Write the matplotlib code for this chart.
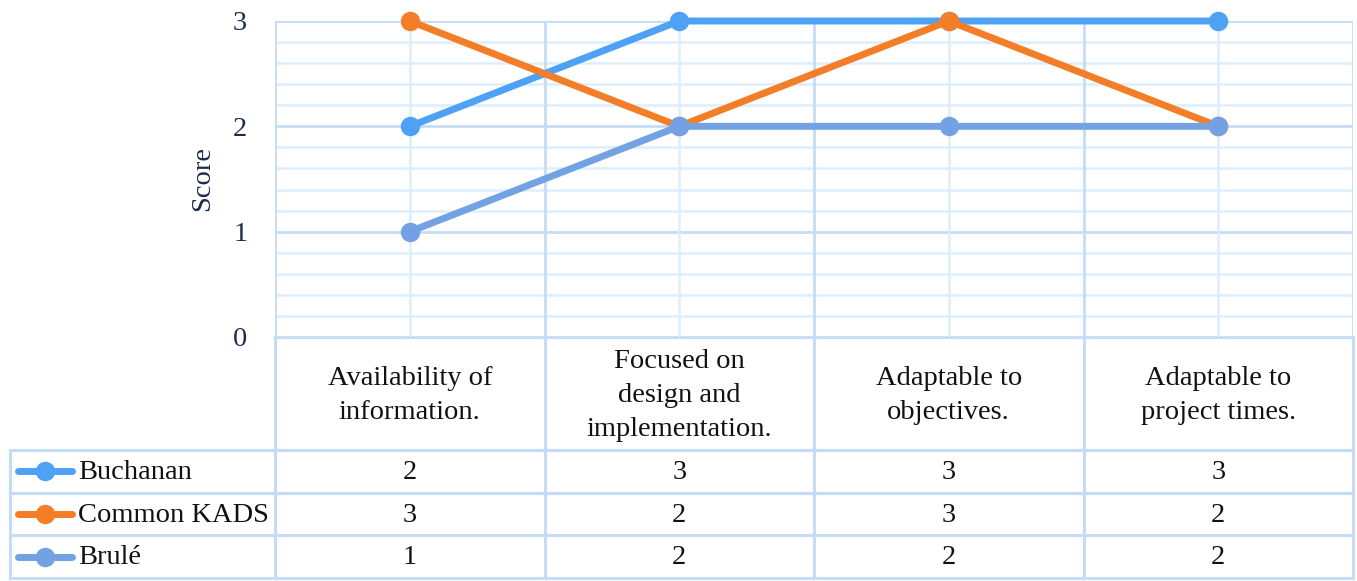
import numpy as np
import matplotlib.pyplot as plt
from matplotlib.lines import Line2D

plt.rcParams["font.family"] = ["Liberation Serif", "DejaVu Serif"]

categories = [
    "Availability of\ninformation.",
    "Focused on\ndesign and\nimplementation.",
    "Adaptable to\nobjectives.",
    "Adaptable to\nproject times.",
]
series_names = ["Buchanan", "Common KADS", "Brulé"]
buchanan = [2, 3, 3, 3]
common_kads = [3, 2, 3, 2]
brule = [1, 2, 2, 2]
series_values = [buchanan, common_kads, brule]
colors = ["#4da2f6", "#f37e27", "#72a2e3"]

W, H = 1357, 581
fig = plt.figure(figsize=(W / 100, H / 100), dpi=100)

# pixel layout
px_left, px_right = 275, 1353
px_top, px_base = 21, 337
px_label_bottom = 450
row_h = 42.7
px_table_left = 10
fs = 20.5

grid_major = "#c5dcf9"
grid_minor = "#ddeefd"
text_navy = "#1d2b4a"

ax = fig.add_axes([px_left / W, 1 - px_base / H,
                   (px_right - px_left) / W, (px_base - px_top) / H])
x = np.arange(len(categories))
ax.set_xlim(-0.5, len(categories) - 0.5)
ax.set_ylim(0, 3)

# grid
for yv in np.arange(0, 3.01, 0.2):
    major = abs(yv - round(yv)) < 1e-6
    ax.axhline(yv, color=grid_major if major else grid_minor,
               lw=2.0 if major else 1.8, zorder=0)
for xv in np.arange(-0.5, len(categories), 1.0):
    ax.axvline(xv, color=grid_major, lw=2.0, zorder=0)
for xv in x:
    ax.axvline(xv, color=grid_minor, lw=1.8, zorder=0)

for vals, c in zip(series_values, colors):
    ax.plot(x, vals, color=c, lw=5.0, marker="o", ms=13, zorder=3,
            solid_capstyle="round", clip_on=False)

for s in ax.spines.values():
    s.set_visible(False)
ax.set_xticks([])
ax.set_yticks([0, 1, 2, 3])
ax.set_yticklabels(["0", "1", "2", "3"], fontsize=fs, color=text_navy)
ax.tick_params(axis="y", length=0, pad=20)
ax.set_ylabel("Score", fontsize=fs, color=text_navy, labelpad=13)

# data table under the plot, in pixel coordinates
tax = fig.add_axes([0, 0, 1, 1], zorder=-1)
tax.set_xlim(0, W)
tax.set_ylim(H, 0)
tax.axis("off")

col_w = (px_right - px_left) / len(categories)
col_edges = [px_left + i * col_w for i in range(len(categories) + 1)]
row_edges = [px_label_bottom + i * row_h for i in range(len(series_names) + 1)]
bc = "#c5dcf9"
blw = 2.2

tax.plot([px_left, px_right], [px_base, px_base], color=bc, lw=blw)
for ry in row_edges:
    tax.plot([px_table_left, px_right], [ry, ry], color=bc, lw=blw)
for cx in col_edges:
    tax.plot([cx, cx], [px_base, row_edges[-1]], color=bc, lw=blw)
tax.plot([px_table_left, px_table_left], [row_edges[0], row_edges[-1]],
         color=bc, lw=blw)

for i, cat in enumerate(categories):
    cx = px_left + (i + 0.5) * col_w
    tax.text(cx, (px_base + px_label_bottom) / 2 + 2, cat, ha="center",
             va="center", fontsize=fs, color="#111111", linespacing=1.5)

for r, (name, vals, c) in enumerate(zip(series_names, series_values, colors)):
    cy = row_edges[r] + row_h / 2
    tax.add_line(Line2D([18, 72], [cy, cy], color=c, lw=5.0,
                        solid_capstyle="round"))
    tax.plot([45], [cy], marker="o", ms=13, color=c)
    tax.text(78, cy + 1, name, ha="left", va="center", fontsize=fs,
             color="#111111")
    for i, v in enumerate(vals):
        cx = px_left + (i + 0.5) * col_w
        tax.text(cx, cy + 1, str(v), ha="center", va="center", fontsize=fs,
                 color="#111111")

fig.savefig("out.png", dpi=100, facecolor="white")
